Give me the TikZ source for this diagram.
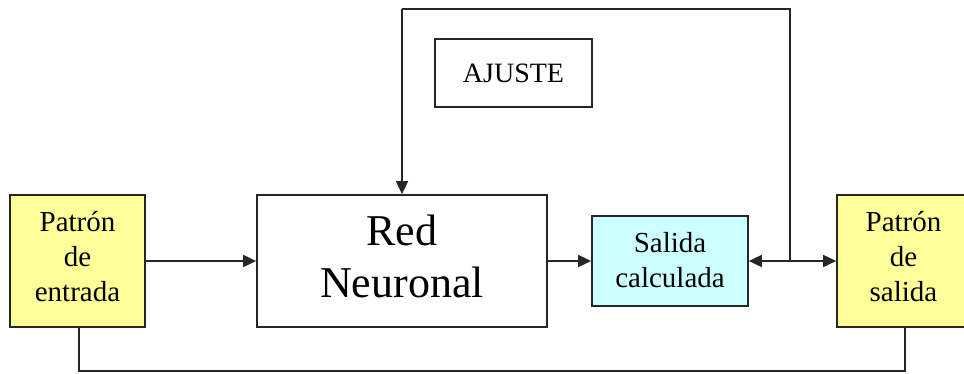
\documentclass[tikz,border=0pt]{standalone}
\usepackage{fontspec}
\setmainfont{Liberation Serif}
\usetikzlibrary{arrows.meta}
\definecolor{padyellow}{HTML}{FFFF99}
\definecolor{padcyan}{HTML}{CCFFFF}
\definecolor{edge}{HTML}{262626}
\tikzset{
  blockbox/.style={draw=edge, line width=1.7pt, inner sep=0pt},
  small/.style={align=center, inner sep=0pt, font=\fontsize{29}{35}\selectfont},
  big/.style={align=center, inner sep=0pt, font=\fontsize{44}{52}\selectfont},
  link/.style={draw=edge, line width=1.7pt},
  arr/.style={link, -{Triangle[length=13pt,width=12pt]}},
}
\begin{document}
\begin{tikzpicture}[x=1pt, y=-1pt]
  \clip (0,0) rectangle (964,373);
  \fill[white] (0,0) rectangle (964,373);

  % blocks
  \node[blockbox, fill=padyellow, minimum width=135pt, minimum height=132pt,
    label={[small, yshift=4pt]center:Patrón\\de\\entrada}]
    (entrada) at (77.5,261) {};
  \node[blockbox, fill=white, minimum width=290pt, minimum height=132pt,
    label={[big, yshift=5pt]center:Red\\Neuronal}]
    (red) at (402,261) {};
  \node[blockbox, fill=padcyan, minimum width=156pt, minimum height=90pt,
    label={[small, yshift=1pt]center:Salida\\calculada}]
    (calc) at (670,261) {};
  \node[blockbox, fill=padyellow, minimum width=133pt, minimum height=132pt,
    label={[small, yshift=4pt]center:Patrón\\de\\salida}]
    (salida) at (903.5,261) {};
  \node[blockbox, fill=white, minimum width=157pt, minimum height=68pt,
    label={[small, font=\fontsize{28}{34}\selectfont]center:AJUSTE}]
    (ajuste) at (513.5,73) {};

  % junction between the two outputs
  \coordinate (junc) at (790,261);
  \coordinate (topR) at (790,9);
  \coordinate (topL) at (402,9);
  \coordinate (botL) at (79,371);
  \coordinate (botR) at (905,371);

  % forward path
  \draw[arr] (entrada.east) -- (red.west);
  \draw[arr] (red.east) -- (calc.west);
  \draw[arr] (junc) -- (calc.east);
  \draw[arr] (junc) -- (salida.west);

  % adjustment feedback loop
  \draw[link] (junc) -- (topR) -- (topL);
  \draw[arr] (topL) -- (red.north);

  % link between the two patterns
  \draw[link] (entrada.south -| botL) -- (botL) -- (botR) -- (salida.south -| botR);
\end{tikzpicture}
\end{document}
